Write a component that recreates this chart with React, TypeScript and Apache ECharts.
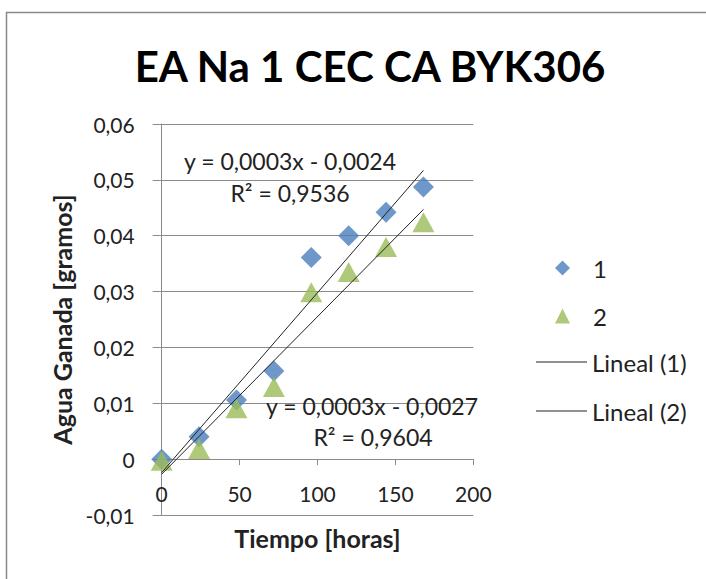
import React, { useEffect, useRef } from "react";
import * as echarts from "echarts";

const hours = [0, 24, 48, 72, 96, 120, 144, 168];
const series1 = [0, 0.004, 0.0106, 0.0158, 0.0361, 0.04, 0.0442, 0.0487];
const series2 = [-0.0003, 0.0018, 0.0091, 0.0129, 0.0299, 0.0335, 0.038, 0.0424];
const trend1X = [0, 168];
const trend1Y = [-0.0024, 0.0517];
const trend2X = [0, 168];
const trend2Y = [-0.0027, 0.0447];
const eq1 = ["y = 0,0003x - 0,0024", "R² = 0,9536"];
const eq2 = ["y = 0,0003x - 0,0027", "R² = 0,9604"];
const xTicks = { min: 0, max: 200, interval: 50 };
const yTicks = { min: -0.01, max: 0.06, interval: 0.01 };

const FONT = "Lato, 'Open Sans', sans-serif";

const GRID = { left: 161.7, right: 232.7, top: 124, bottom: 64 };
const CH = 579;

export default function App() {
  const ref = useRef<HTMLDivElement>(null);
  useEffect(() => {
    if (!ref.current) return;
    const chart = echarts.init(ref.current, null, { renderer: "svg" });
    const pair = (xs: number[], ys: number[]) => xs.map((x, i) => [x, ys[i]]);
    // place the horizontal axis on y = 0 (as Excel does)
    const plotH = CH - GRID.top - GRID.bottom;
    const zeroOffset = -plotH * (0 - yTicks.min) / (yTicks.max - yTicks.min);
    const legendBase = {
      orient: "vertical",
      textStyle: { fontFamily: FONT, fontSize: 24, color: "#222" },
      selectedMode: false,
    };
    const eqStyle = (text: string) => ({
      text,
      font: `23px ${FONT}`,
      fill: "#222",
      textAlign: "center",
      textVerticalAlign: "middle",
    });
    chart.setOption({
      animation: false,
      backgroundColor: "#fff",
      textStyle: { fontFamily: FONT },
      title: {
        text: "EA Na 1 CEC CA BYK306",
        left: 365,
        top: 40,
        textAlign: "center",
        textStyle: { fontFamily: FONT, fontSize: 42, fontWeight: "bold", color: "#000" },
      },
      grid: {
        ...GRID,
        containLabel: false,
        outerBoundsMode: "none",
      },
      xAxis: {
        type: "value",
        position: "bottom",
        offset: zeroOffset,
        min: xTicks.min,
        max: xTicks.max,
        interval: xTicks.interval,
        name: "Tiempo [horas]",
        nameLocation: "middle",
        nameGap: 66,
        nameTextStyle: { fontFamily: FONT, fontSize: 25, fontWeight: "bold", color: "#222" },
        axisLine: { show: true, onZero: false, lineStyle: { color: "#8a8a8a", width: 1 } },
        axisTick: { show: true, length: 6, lineStyle: { color: "#8a8a8a" } },
        axisLabel: { fontSize: 21, color: "#222", margin: 24, fontFamily: FONT },
        splitLine: { show: false },
      },
      yAxis: {
        type: "value",
        min: yTicks.min,
        max: yTicks.max,
        interval: yTicks.interval,
        name: "Agua Ganada [gramos]",
        nameLocation: "middle",
        nameGap: 87,
        nameRotate: 90,
        nameTextStyle: { fontFamily: FONT, fontSize: 25, fontWeight: "bold", color: "#222" },
        axisLine: { show: true, onZero: false, lineStyle: { color: "#8a8a8a", width: 1 } },
        axisTick: { show: true, length: 9, lineStyle: { color: "#8a8a8a" } },
        axisLabel: {
          fontSize: 21,
          color: "#222",
          margin: 27,
          fontFamily: FONT,
          formatter: (v: number) => (Math.abs(v) < 1e-9 ? "0" : v.toFixed(2).replace(".", ",")),
        },
        splitLine: { show: true, lineStyle: { color: "#8a8a8a", width: 1 } },
      },
      legend: [
        {
          ...legendBase,
          data: [{ name: "1", icon: "diamond" }],
          left: 550,
          top: 251,
          itemWidth: 15,
          itemHeight: 15,
          textStyle: { ...legendBase.textStyle, padding: [0, 0, 0, 18] },
        },
        {
          ...legendBase,
          data: [{ name: "2", icon: "triangle" }],
          left: 550,
          top: 299,
          itemWidth: 15,
          itemHeight: 15,
          textStyle: { ...legendBase.textStyle, padding: [0, 0, 0, 18] },
        },
        {
          ...legendBase,
          data: [{ name: "Lineal (1)", icon: "rect" }],
          left: 531,
          top: 345,
          itemWidth: 51,
          itemHeight: 1.2,
        },
        {
          ...legendBase,
          data: [{ name: "Lineal (2)", icon: "rect" }],
          left: 531,
          top: 394,
          itemWidth: 51,
          itemHeight: 1.2,
        },
      ],
      series: [
        {
          name: "1",
          type: "scatter",
          symbol: "diamond",
          symbolSize: [21, 21],
          itemStyle: { color: "#4A7EBB" },
          data: pair(hours, series1),
          z: 2,
        },
        {
          name: "2",
          type: "scatter",
          symbol: "triangle",
          symbolSize: [22, 20],
          itemStyle: { color: "#9BBB59" },
          data: pair(hours, series2),
          z: 3,
        },
        {
          name: "Lineal (1)",
          type: "line",
          showSymbol: false,
          symbol: "none",
          lineStyle: { color: "#222", width: 1 },
          itemStyle: { color: "#222" },
          data: pair(trend1X, trend1Y),
          z: 4,
        },
        {
          name: "Lineal (2)",
          type: "line",
          showSymbol: false,
          symbol: "none",
          lineStyle: { color: "#222", width: 1 },
          itemStyle: { color: "#222" },
          data: pair(trend2X, trend2Y),
          z: 4,
        },
      ],
      graphic: [
        {
          type: "rect",
          shape: { x: 6.5, y: 12.5, width: 760, height: 640 },
          style: { fill: "none", stroke: "#888", lineWidth: 1.5 },
          silent: true,
          z: -10,
        },
        { type: "text", x: 290, y: 161, style: eqStyle(eq1[0]), z: 10 },
        { type: "text", x: 290, y: 193, style: eqStyle(eq1[1]), z: 10 },
        { type: "text", x: 372, y: 406, style: eqStyle(eq2[0]), z: 10 },
        { type: "text", x: 373, y: 437, style: eqStyle(eq2[1]), z: 10 },
      ],
    });
    return () => chart.dispose();
  }, []);
  return (
    <div
      ref={ref}
      style={{ position: "fixed", left: 0, top: 0, width: 706, height: CH, background: "#fff" }}
    />
  );
}
